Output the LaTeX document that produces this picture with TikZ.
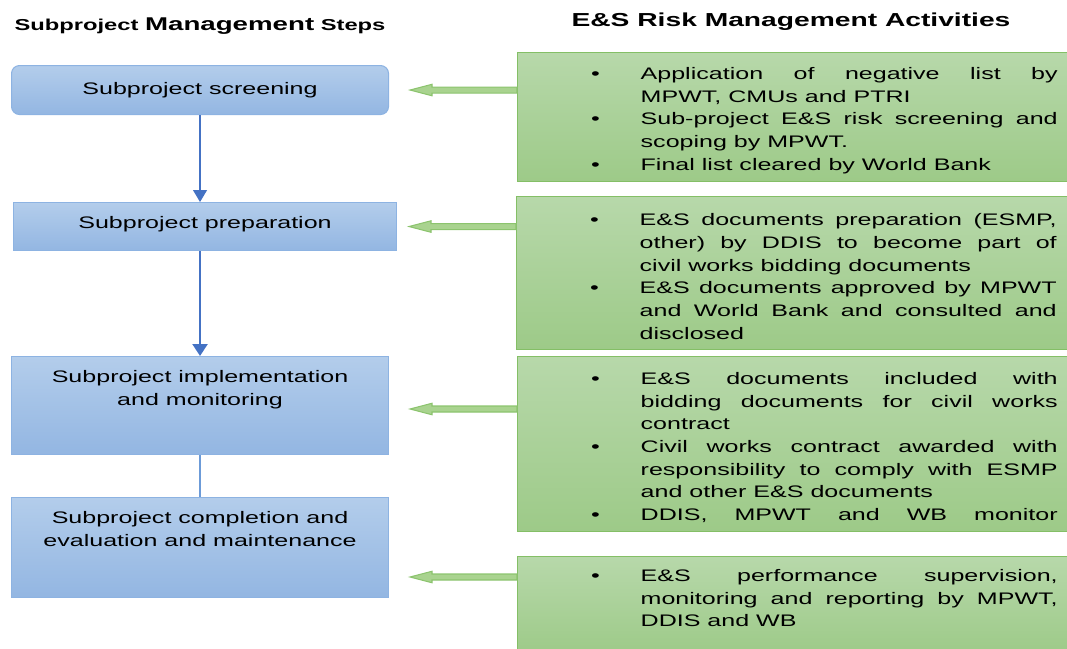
\documentclass[tikz,border=0pt]{standalone}
\usepackage{fontspec}
\setmainfont[FakeStretch=1.5]{Liberation Sans}
\usetikzlibrary{arrows.meta}

\definecolor{steptop}{HTML}{B3CDEB}
\definecolor{stepbot}{HTML}{93B6E2}
\definecolor{stepline}{HTML}{8DB3E2}
\definecolor{flowblue}{HTML}{4472C4}
\definecolor{linkblue}{HTML}{6C9BD8}
\definecolor{estop}{HTML}{B7D8AA}
\definecolor{esbot}{HTML}{9DCA88}
\definecolor{esline}{HTML}{84BF66}
\definecolor{esarrowfill}{HTML}{A9D38F}
\definecolor{esarrowline}{HTML}{8CC46E}

\newcommand{\bodysize}{\fontsize{9.5pt}{12.9pt}\selectfont}
\newcommand{\esitem}[1]{\noindent\hangindent=1.1cm\hangafter=1\makebox[1.1cm][l]{\hspace{0.11cm}\textbullet}#1\par}
\newcommand{\eslift}{\rule{0pt}{0.37cm}}
\newcommand{\esdrop}{\rule[-0.31cm]{0pt}{0pt}}
\newcommand{\toptext}[3]{\parbox[t][#2][t]{#1}{\centering\rule{0pt}{0.52cm}#3}}
\newcommand{\esarrowfrom}[1]{\draw[esarrow] (#1) ++(0,0.06) -- ++(-1.7,0) -- ++(0,0.055) -- ++(-0.44,-0.115) -- ++(0.44,-0.115) -- ++(0,0.055) -- ++(1.7,0) -- cycle;}

\begin{document}
\begin{tikzpicture}[
    stepbox/.style={draw=stepline, line width=0.6pt, top color=steptop, bottom color=stepbot, inner sep=0pt, anchor=north west, font=\bodysize},
    esbox/.style={draw=esline, line width=0.8pt, top color=estop, bottom color=esbot, anchor=north west, text width=9.44cm, inner xsep=1.36cm, inner ysep=0pt, align=justify, font=\bodysize},
    esarrow/.style={draw=esarrowline, fill=esarrowfill, line width=0.6pt},
    heading/.style={font=\bfseries}
]
\useasboundingbox (0,0) rectangle (21.34,-12.96);

\node[heading] (lhead) at (4.0,-0.52) {\fontsize{9pt}{11pt}\selectfont Subproject {\fontsize{10.5pt}{12pt}\selectfont Management} Steps};
\node[heading, font=\bfseries\fontsize{10.7pt}{13pt}\selectfont] (rhead) at (15.82,-0.44) {E\&S Risk Management Activities};

\node[stepbox, rounded corners=0.16cm, minimum width=7.54cm, minimum height=0.98cm] (scr) at (0.22,-1.30) {Subproject screening};
\node[stepbox] (prep) at (0.26,-4.04) {\toptext{7.66cm}{0.96cm}{Subproject preparation}};
\node[stepbox] (impl) at (0.22,-7.12) {\toptext{7.54cm}{1.96cm}{Subproject implementation\\and monitoring}};
\node[stepbox] (comp) at (0.22,-9.94) {\toptext{7.54cm}{2.0cm}{Subproject completion and\\evaluation and maintenance}};

\draw[flowblue, line width=0.7pt, -{Triangle[length=0.24cm, width=0.28cm]}] (scr.south) -- (scr.south |- prep.north);
\draw[flowblue, line width=1.3pt, -{Triangle[length=0.24cm, width=0.3cm]}] (impl.north |- prep.south) -- (impl.north);
\draw[linkblue, line width=1pt] (impl.south) -- (comp.north);

\node[esbox, minimum height=2.58cm] (g1) at (10.34,-1.04) {%
  \esitem{\eslift Application of negative list by\linebreak MPWT, CMUs and PTRI}%
  \esitem{Sub-project E\&S risk screening and\linebreak scoping by MPWT.}%
  \esitem{Final list cleared by World Bank}};
\node[esbox, minimum height=3.06cm] (g2) at (10.32,-3.92) {%
  \esitem{\eslift E\&S documents preparation (ESMP,\linebreak other) by DDIS to become part of\linebreak civil works bidding documents}%
  \esitem{E\&S documents approved by MPWT\linebreak and World Bank and consulted and\linebreak disclosed}};
\node[esbox, minimum height=3.5cm] (g3) at (10.34,-7.12) {%
  \esitem{\eslift E\&S documents included with\linebreak bidding documents for civil works\linebreak contract}%
  \esitem{Civil works contract awarded with\linebreak responsibility to comply with ESMP\linebreak and other E\&S documents}%
  \esitem{DDIS, MPWT and WB monitor\parfillskip=0pt}};
\node[esbox, minimum height=1.96cm] (g4) at (10.34,-11.12) {%
  \esitem{E\&S performance supervision,\linebreak monitoring and reporting by MPWT,\linebreak DDIS and WB\esdrop}};

\coordinate (a3) at (10.34,-8.18);
\coordinate (a4) at (10.34,-11.54);
\esarrowfrom{g1.west |- scr.east}
\esarrowfrom{g2.west |- prep.east}
\esarrowfrom{a3}
\esarrowfrom{a4}
\end{tikzpicture}
\end{document}
